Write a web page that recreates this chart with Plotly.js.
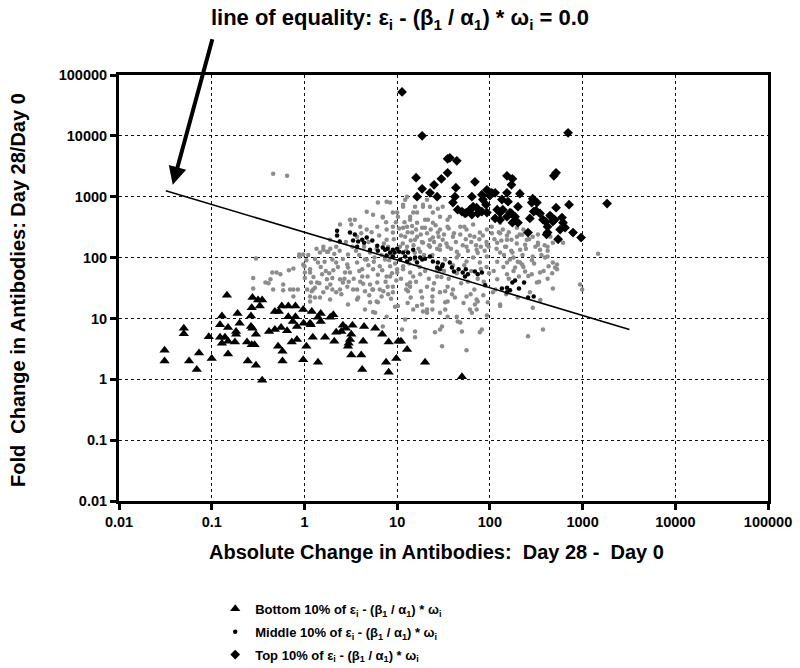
<!DOCTYPE html>
<html>
<head>
<meta charset="utf-8">
<script src="https://cdn.plot.ly/plotly-3.0.1.min.js"></script>
<style>
  html, body { margin: 0; padding: 0; background: #fff; }
  #chart { width: 800px; height: 668px; }
</style>
</head>
<body>
<div id="chart"></div>
<script>
// Axis ticks (log scale, both axes)
const tickVals = [0.01, 0.1, 1, 10, 100, 1000, 10000, 100000];
const tickText = ["0.01", "0.1", "1", "10", "100", "1000", "10000", "100000"];

// Remaining points (grey, not in legend)
const greyX = [0.46, 0.65, 0.30, 0.28, 0.41, 0.45, 0.55, 0.59, 0.68, 0.76, 0.85, 0.88, 0.97, 1.0, 1.01, 1.15, 1.18, 1.24, 1.4, 1.6,
  1.75, 1.89, 2.0, 2.2, 2.42, 2.74, 2.9, 2.95, 3.2, 3.5, 3.7, 4.2, 4.5, 4.7, 4.8, 5.1, 5.5, 6.1, 6.2, 6.5,
  7.0, 7.4, 7.7, 7.9, 8.4, 9.0, 9.0, 10, 10.2, 10.7, 11.6, 12.8, 13.8, 14.5, 14.9, 15.6, 16.4, 18.6, 19, 21,
  21.5, 22.6, 24.3, 27, 27.5, 29, 31, 33, 35, 35,
  0.28, 0.38, 0.76, 0.97, 1.01, 1.07, 1.15, 1.37, 1.55, 1.75, 1.89, 2.0, 2.2, 2.6, 2.95, 3.35, 3.7, 4.2, 4.5, 5.1,
  5.5, 6.1, 6.8, 7.7, 8.4, 9.0, 10.2, 11.3, 12.2, 13.8, 15.6, 16.4, 18.6, 21, 24.3, 29, 30.5, 33, 35,
  1.2, 1.3, 2.95, 3.8, 4.5, 5.4, 5.8, 6.2, 7.0, 8.0, 9.5, 13.1, 14.9, 15.6, 18.6, 21, 24, 25.6, 29, 30.5,
  35, 39, 44, 48, 50, 56, 64, 69, 74, 78, 93, 95, 129,
  11.6, 13.8, 17.7, 21, 24, 29, 33, 40, 45, 56, 61, 72, 82, 108, 120, 129, 153, 187, 223, 258,
  290, 322, 374, 419, 478, 530, 940, 1470,
  138, 153, 171, 196, 223, 146, 175, 212, 250, 290, 330, 348, 290, 394, 478, 430, 505, 240, 283, 348,
  206, 615, 153,
  11.6, 13.8, 15.6, 19, 22.6, 27.5, 12.8, 16.4, 20, 24.3, 29, 35, 37, 12.2, 15.6, 19, 24.3, 31, 40, 48,
  56, 66, 78, 93, 105, 129, 12.8, 17.7, 22.6, 29, 35, 44, 56, 72, 93, 120, 153, 196, 230, 240,
  93, 129, 165, 212, 78, 56, 44,
  7.7, 5.5, 7.0, 10, 14.9, 3.1, 2.42, 4.0, 4.7, 7.7, 9.0, 11.6, 16.4, 1.6, 1.8, 1.47, 0.88, 0.5, 1.15, 2.2,
  3.7, 4.7, 3.1, 5.5, 8.4, 10, 11.6, 13.8, 7.7, 2.42, 1.75, 1.3, 1.6, 2.0, 2.9, 3.7, 5.1, 6.5, 9.0, 12.8,
  1.15, 1.47, 0.7, 0.76, 0.43, 0.59, 0.46,
  12.2, 129, 330, 419, 478, 530, 990,
  1.1, 1.3, 1.5, 1.7, 1.9, 2.1, 2.3, 2.6, 2.8, 1.25, 1.45, 1.65, 1.85, 2.4, 2.7, 1.05, 1.35, 2.05, 2.5, 1.9,
  3.3, 3.6, 3.9, 4.1, 4.4, 4.9, 5.3, 5.7, 6.0, 6.4, 6.8, 7.2, 7.6, 8.0, 8.6, 9.2, 9.7,
  3.4, 3.9, 4.3, 4.9, 5.6, 6.2, 6.9, 7.5, 8.2, 8.8, 9.5, 5.0, 6.0, 7.1, 8.6, 9.8, 3.0, 4.0,
  10.5, 11, 11.5, 12, 12.5, 13, 13.5, 14, 14.5, 15, 15.5, 16, 17, 17.5, 18, 18.5, 19.5, 20, 21, 22,
  23, 24, 25, 26, 27, 28, 29, 11, 12.5, 14, 16, 18, 20, 22, 25, 27, 30, 13, 19, 24,
  32, 34, 36, 38, 41, 43, 46, 48, 51, 53, 55, 58, 61, 63, 66, 68, 71, 74, 77, 80, 84, 88, 92, 97,
  32, 36, 40, 44, 49, 53, 58, 63, 68, 74, 80, 86, 92, 98, 33, 42, 52, 62, 72, 85,
  105, 112, 118, 125, 133, 142, 150, 160, 170, 180, 195, 210, 225, 245, 265, 285, 310, 330, 360, 390,
  420, 450, 110, 120, 140, 160, 180, 200, 230, 260, 300, 340, 380, 420, 470, 115, 150, 200, 270, 350];
const greyY = [2380, 2210, 97, 31, 38, 57, 53, 29, 62, 66, 30, 112, 112, 72, 57, 64, 39, 30, 83, 150,
  125, 197, 93, 150, 30, 57, 77, 112, 348, 420, 220, 64, 93, 565, 49, 121, 30, 322, 800, 72,
  470, 93, 197, 33, 800, 550, 322, 57, 470, 150, 685, 1000, 420, 257, 49, 93, 550, 310, 685, 893,
  420, 197, 550, 49, 257, 470, 685, 93, 322, 33,
  46, 39, 30, 77, 46, 30, 19, 39, 53, 32, 20.5, 46, 27, 39, 69, 30, 20.5, 49, 28, 18.5,
  12.8, 39, 23, 10.7, 49, 27, 16, 6.6, 9.6, 33, 4.9, 16, 22, 12.4, 30, 6.6, 3.5, 18.5, 10.7,
  28, 22, 17, 22, 14, 30, 12.4, 18.5, 7.4, 25, 15.5, 28, 14, 6.1, 17, 14, 19, 5.9, 12.4, 7.4,
  19, 25, 10.7, 8.6, 6.1, 3.0, 12.4, 17, 19, 5.9, 11.2, 18.5, 17,
  64, 39, 53, 33, 23, 27, 14, 30, 8.9, 23, 14, 20.5, 6.6, 27, 44, 16, 53, 69, 77, 5.1,
  15, 39, 6.6, 104, 31, 77, 36, 116,
  288, 230, 197, 310, 238, 151, 121, 135, 197, 220, 176, 135, 104, 100, 176, 72, 69, 59, 53, 57,
  49, 176, 83,
  740, 470, 685, 740, 685, 635, 322, 375, 310, 375, 288, 420, 470, 220, 197, 176, 213, 197, 220, 322,
  288, 348, 257, 288, 322, 375, 151, 125, 151, 135, 151, 125, 151, 135, 163, 176, 197, 220, 288, 163,
  104, 121, 93, 83, 83, 86, 100,
  830, 507, 455, 550, 550, 420, 348, 322, 288, 288, 257, 310, 220, 135, 125, 121, 104, 57, 57, 83,
  83, 93, 57, 64, 72, 64, 72, 57, 49, 44, 44, 32, 27, 30, 33, 30, 36, 30, 33, 36,
  23, 22, 30, 23, 44, 36, 30,
  893, 250, 163, 150, 83, 64, 30,
  110, 95, 70, 60, 140, 115, 70, 95, 180, 48, 38, 85, 55, 130, 45, 90, 140, 62, 25, 36,
  150, 130, 110, 250, 150, 180, 260, 100, 140, 230, 110, 170, 380, 150, 110, 200, 380,
  45, 60, 37, 75, 85, 52, 62, 40, 90, 55, 80, 24, 19, 28, 21, 42, 40, 40,
  300, 230, 170, 380, 130, 260, 80, 190, 330, 160, 120, 290, 140, 70, 240, 180, 110, 420, 250, 160,
  290, 110, 180, 340, 140, 220, 160, 45, 30, 22, 40, 28, 60, 45, 38, 60, 48, 18, 13, 14,
  240, 170, 300, 140, 250, 180, 110, 240, 160, 320, 200, 130, 230, 180, 100, 220, 160, 120, 200, 150, 230, 130, 180, 150,
  60, 45, 75, 55, 38, 75, 40, 60, 30, 45, 65, 40, 70, 55, 28, 22, 18, 25, 14, 24,
  250, 200, 140, 260, 190, 110, 150, 260, 130, 100, 170, 240, 110, 140, 200, 90, 150, 240, 110, 160,
  130, 220, 60, 85, 70, 45, 60, 85, 70, 50, 80, 40, 60, 45, 55, 30, 25, 22, 27, 20];

// Bottom 10% (triangles)
const bottomX = [0.031, 0.031, 0.05, 0.05, 0.057, 0.069, 0.073, 0.093, 0.1, 0.146, 0.129, 0.123, 0.15, 0.123, 0.139, 0.129, 0.15, 0.15, 0.178, 0.183,
  0.183, 0.19, 0.2, 0.245, 0.24, 0.27, 0.29, 0.3, 0.265, 0.27, 0.275, 0.316, 0.35, 0.33, 0.265, 0.275, 0.3, 0.35, 0.415, 0.48,
  0.56, 0.65, 0.48, 0.53, 0.57, 0.67, 0.8, 0.67, 0.8, 0.75, 0.83, 0.52, 0.58, 0.58, 0.73, 0.83, 0.97, 1.2, 0.98, 1.15,
  1.05, 0.97, 1.23, 1.5, 1.4, 1.5, 1.9, 2.05, 1.17, 1.67, 1.4, 2.1, 2.2, 2.5, 2.6, 2.8, 3.3, 3.2, 3.1, 2.95,
  3.0, 4.3, 4.4, 5.8, 6.9, 3.2, 4.1, 4.2, 7.6, 8.1, 8.1, 9.8, 10.3, 11, 12.8, 20, 50];
const bottomY = [3.0, 2.0, 6.9, 5.6, 2.0, 1.45, 2.7, 5.0, 2.2, 24, 11, 7.9, 7.1, 4.9, 4.9, 3.9, 4.2, 2.6, 4.1, 6.1,
  5.5, 12, 8.3, 2.0, 4.1, 3.7, 3.7, 1.7, 11, 15, 22, 20, 20, 16, 7.4, 6.9, 5.5, 0.96, 6.1, 6.6,
  7.1, 6.3, 13, 13, 16, 16, 16, 10.7, 10.7, 8.9, 7.4, 3.5, 2.9, 2.0, 4.1, 4.5, 14, 13, 8.3, 8.3,
  3.5, 2.1, 4.9, 12, 10.5, 8.9, 10.5, 11.5, 7.9, 4.9, 1.9, 4.2, 5.9, 6.1, 7.7, 6.9, 7.7, 5.5, 4.5, 3.5,
  3.9, 4.2, 7.4, 6.9, 5.5, 2.5, 2.5, 1.45, 1.9, 1.3, 4.1, 2.2, 4.2, 4.2, 3.1, 1.9, 1.1];

// Middle 10% (small black dots, close to the line)
const middleX = [2.25, 2.25, 2.4, 3.1, 3.5, 3.35, 3.8, 4.2, 4.4, 4.7, 5.4, 3.7, 5.1, 6.1, 6.2, 7.0, 7.4, 7.9, 8.4, 9.0,
  9.4, 10, 10.5, 11.6, 12.2, 13.1, 14.9, 13.8, 15.6, 12.8, 16.4, 7.7, 9.0, 10.8, 17.7, 20, 22.6, 24.3, 27.5, 30.5,
  27, 37, 39, 41, 51, 55, 58, 54, 69, 74, 82, 89, 135, 153, 165, 175, 187, 206, 234, 258,
  297, 153, 29, 31, 18.6, 46];
const middleY = [277, 230, 183, 257, 240, 190, 183, 197, 176, 213, 190, 151, 135, 157, 130, 146, 135, 140, 121, 135,
  121, 140, 125, 121, 104, 121, 135, 96, 100, 86, 83, 108, 104, 93, 100, 96, 104, 86, 83, 72,
  69, 83, 69, 59, 57, 64, 53, 49, 59, 53, 57, 35, 31, 32, 29, 39, 42, 31, 39, 22,
  23, 27, 64, 77, 93, 64];

// Top 10% (diamonds)
const topX = [11.3, 18.6, 698, 16, 18.6, 25, 30, 35, 35, 16.4, 22.6, 27, 37, 44, 43, 42, 40, 69, 64, 82,
  93, 105, 114, 153, 175, 171, 153, 211, 290, 322, 518, 490, 715, 518, 1840, 50, 54, 61, 66, 72,
  64, 74, 82, 93, 91, 120, 129, 138, 153, 171, 187, 201, 129, 114, 201, 270, 297, 348, 400, 419,
  258, 500, 600, 615, 572, 647, 545, 789, 964, 409, 135, 157, 374, 446, 478, 419, 175, 45, 56, 84,
  100, 165, 283, 315];
const topY = [52600, 10000, 11200, 2050, 1350, 1570, 1970, 2470, 4200, 1000, 1160, 1000, 4350, 3890, 1410, 1000, 800, 1760, 1000, 1080,
  1300, 1160, 1160, 2210, 1970, 1570, 1160, 1120, 930, 800, 2470, 2210, 740, 660, 770, 570, 530, 612, 685, 660,
  510, 530, 570, 549, 740, 612, 549, 612, 470, 530, 470, 375, 420, 440, 685, 440, 570, 530, 390, 257,
  257, 420, 455, 375, 288, 310, 200, 257, 213, 240, 900, 830, 420, 490, 390, 322, 375, 612, 549, 900,
  1040, 549, 800, 590];

// Line of equality end points
const lineX = [0.032, 3200];
const lineY = [1250, 6.6];

// Where the arrow points
const arrowTip = [0.038, 1570];

const eqText = "ε<sub>i</sub> - (β<sub>1</sub> / α<sub>1</sub>) * ω<sub>i</sub>";
const xTitle = "Absolute Change in Antibodies:  Day 28 -  Day 0";
const yTitle = "Fold  Change in Antibodies: Day 28/Day 0";
const FONT = "Arial, 'Liberation Sans', sans-serif";

const greyTrace = {
  x: greyX, y: greyY, mode: "markers", type: "scatter",
  marker: { color: "#8c8c8c", size: 4.5 },
  showlegend: false, hoverinfo: "skip"
};
const lineTrace = {
  x: lineX, y: lineY, mode: "lines", type: "scatter",
  line: { color: "#000", width: 1.6 },
  showlegend: false, hoverinfo: "skip"
};
const bottomTrace = {
  x: bottomX, y: bottomY, mode: "markers", type: "scatter",
  name: "Bottom 10% of " + eqText, legendgroup: "b",
  marker: { symbol: "triangle-up", color: "#000", size: 9 }
};
const middleTrace = {
  x: middleX, y: middleY, mode: "markers", type: "scatter",
  name: "Middle 10% of " + eqText, legendgroup: "m",
  marker: { color: "#000", size: 4.5 }
};
const topTrace = {
  x: topX, y: topY, mode: "markers", type: "scatter",
  name: "Top 10% of " + eqText, legendgroup: "t",
  marker: { symbol: "diamond", color: "#000", size: 7.5 }
};

const axisCommon = {
  type: "log",
  range: [-2, 5],
  tickvals: tickVals,
  ticktext: tickText,
  showgrid: true,
  gridcolor: "#111",
  griddash: "dot",
  gridwidth: 1,
  showline: true,
  linecolor: "#000",
  linewidth: 3,
  mirror: true,
  ticks: "outside",
  ticklen: 6,
  tickwidth: 3,
  tickcolor: "#000",
  zeroline: false,
  tickfont: { family: FONT, size: 14.5, color: "#000", weight: "bold" }
};

const titleFont = { family: FONT, size: 20, color: "#000", weight: "bold" };

const layout = {
  width: 800,
  height: 668,
  margin: { l: 119, r: 32, t: 75, b: 167, autoexpand: false },
  paper_bgcolor: "#fff",
  plot_bgcolor: "#fff",
  font: { family: FONT, color: "#000" },
  title: {
    text: "line of equality: " + eqText + " = 0.0",
    font: { family: FONT, size: 22, color: "#000", weight: "bold" },
    xref: "container", x: 0.5, xanchor: "center",
    yref: "container", y: 0.974, yanchor: "middle"
  },
  xaxis: Object.assign({}, axisCommon),
  yaxis: Object.assign({}, axisCommon),
  showlegend: true,
  legend: {
    xref: "container", x: 0.269, xanchor: "left",
    yref: "container", y: 0.111, yanchor: "top",
    orientation: "v",
    tracegroupgap: 3,
    font: { family: FONT, size: 13, color: "#000", weight: "bold" },
    bgcolor: "rgba(0,0,0,0)"
  },
  annotations: [
    {
      x: Math.log10(arrowTip[0]), y: Math.log10(arrowTip[1]),
      xref: "x", yref: "y",
      text: "",
      showarrow: true,
      arrowhead: 2, arrowsize: 0.9, arrowwidth: 4, arrowcolor: "#000",
      ax: 40, ay: -147, standoff: 0
    },
    {
      text: xTitle, font: titleFont, showarrow: false,
      xref: "paper", x: 0.5, xanchor: "center", xshift: -7,
      yref: "paper", y: 0, yanchor: "middle", yshift: -51
    },
    {
      text: yTitle, font: titleFont, showarrow: false, textangle: -90,
      xref: "paper", x: 0, xanchor: "center", xshift: -101,
      yref: "paper", y: 0.5, yanchor: "middle", yshift: -2
    }
  ]
};

Plotly.newPlot("chart", [greyTrace, lineTrace, bottomTrace, middleTrace, topTrace], layout,
  { displayModeBar: false, staticPlot: true });
</script>
</body>
</html>
